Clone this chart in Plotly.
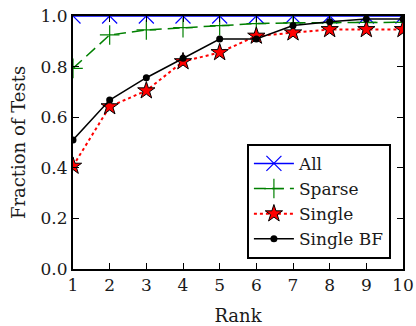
import plotly.graph_objects as go

rank = [1, 2, 3, 4, 5, 6, 7, 8, 9, 10]
all_vals = [1.0, 1.0, 1.0, 1.0, 1.0, 1.0, 1.0, 1.0, 1.0, 1.0]
sparse_vals = [0.793, 0.925, 0.945, 0.954, 0.962, 0.970, 0.973, 0.974, 0.975, 0.975]
single_vals = [0.407, 0.642, 0.705, 0.820, 0.856, 0.921, 0.934, 0.947, 0.947, 0.947]
single_bf_vals = [0.51, 0.668, 0.756, 0.833, 0.909, 0.909, 0.962, 0.977, 0.988, 0.988]
x_ticks = [1, 2, 3, 4, 5, 6, 7, 8, 9, 10]
y_ticks = [0.0, 0.2, 0.4, 0.6, 0.8, 1.0]

FONT = "DejaVu Serif"
TXT = "#1a1a1a"

fig = go.Figure()
fig.add_trace(go.Scatter(x=rank, y=all_vals, name="All", mode="lines+markers",
                         line=dict(color="blue", width=1.5),
                         marker=dict(symbol="x-thin-open", size=15,
                                     line=dict(color="blue", width=1.2), color="blue")))
fig.add_trace(go.Scatter(x=rank, y=sparse_vals, name="Sparse", mode="lines+markers",
                         line=dict(color="green", width=1.5, dash="12px,6px"),
                         marker=dict(symbol="cross-thin-open", size=14,
                                     line=dict(color="green", width=1.2), color="green")))
fig.add_trace(go.Scatter(x=rank, y=single_vals, name="Single", mode="lines+markers",
                         line=dict(color="red", width=2, dash="dot"),
                         marker=dict(symbol="star", size=13, color="red",
                                     line=dict(color="black", width=1))))
fig.add_trace(go.Scatter(x=rank, y=single_bf_vals, name="Single BF", mode="lines+markers",
                         line=dict(color="black", width=1.5),
                         marker=dict(symbol="circle", size=7, color="black")))

axis_common = dict(showgrid=False, zeroline=False, showline=True, linecolor="black",
                   linewidth=2, mirror="ticks", ticks="inside", ticklen=6,
                   tickcolor="black", tickwidth=1, automargin=False,
                   tickfont=dict(family=FONT, size=17, color=TXT))

fig.update_xaxes(range=[1, 10], tickvals=x_ticks, ticktext=[str(t) for t in x_ticks],
                 title=dict(text="Rank", font=dict(family=FONT, size=18, color=TXT), standoff=16),
                 **axis_common)
fig.update_yaxes(range=[0, 1], tickvals=y_ticks, ticktext=[f"{t:.1f}" for t in y_ticks],
                 title=dict(text="Fraction of Tests", font=dict(family=FONT, size=18, color=TXT), standoff=10),
                 **axis_common)

fig.update_layout(
    width=416, height=326,
    margin=dict(l=73, r=13, t=16, b=57, autoexpand=False),
    paper_bgcolor="white", plot_bgcolor="white",
    font=dict(family=FONT, size=17, color=TXT),
    legend=dict(x=0.527, y=0.04, xanchor="left", yanchor="bottom",
                bgcolor="white", bordercolor="black", borderwidth=2,
                font=dict(family=FONT, size=17, color=TXT),
                tracegroupgap=0, itemwidth=40),
    showlegend=True,
)

fig.write_html("out.html")
